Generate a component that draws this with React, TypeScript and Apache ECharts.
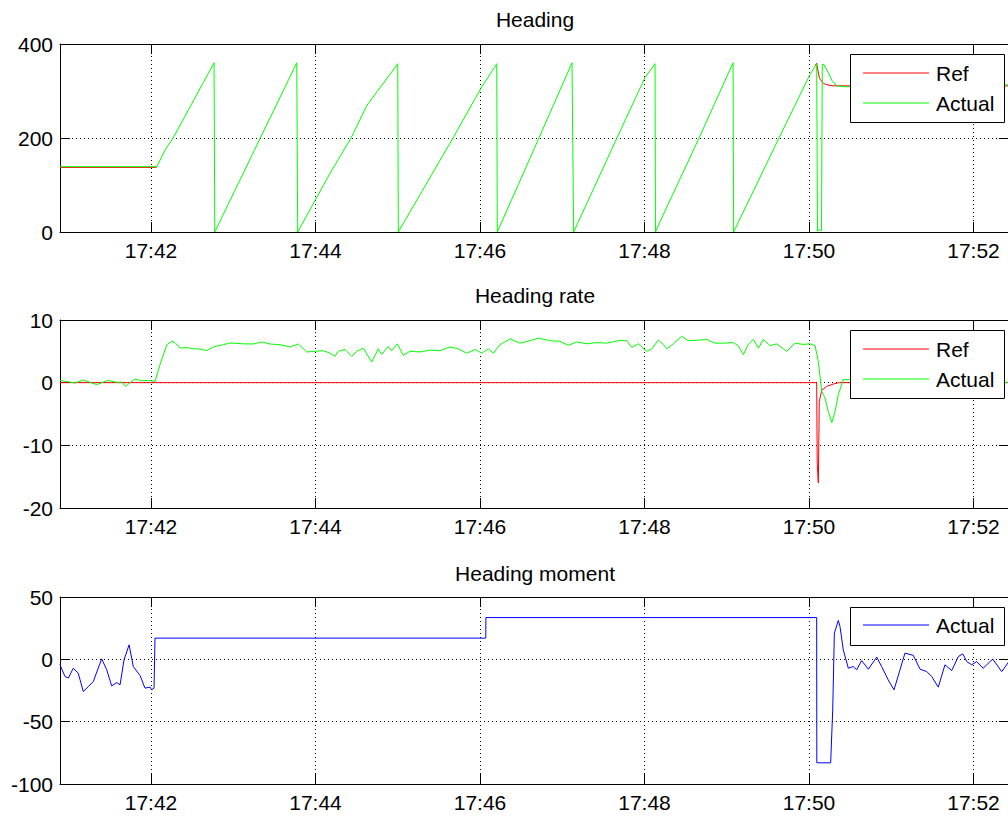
import React, { useEffect, useRef } from 'react';
import * as echarts from 'echarts';

// Time is in seconds after 17:40:00
const xTicks = [120, 240, 360, 480, 600, 720];
const xMin = 53.6;
const xMax = 745.9;

const headingTitles = ['Heading', 'Heading rate', 'Heading moment'];
const yTicks0 = [0, 400, 200];
const yTicks1 = [-20, 10, 10];
const yTicks2 = [-100, 50, 50];

const headingRef: any[] = [
  [53.6, 137.5], [124.0, 137.5], [124.5, '-'],
  [604.4, 354], [605.6, 359], [607.6, 327], [610.5, 316], [613.5, 313], [617.7, 311], [745.9, 311],
];

const headingActual: [number, number][] = [
  [53.6, 139], [124.2, 139], [130.2, 174], [136.3, 201], [166.0, 360], [166.5, 0],
  [226.3, 360], [227.0, 0],
  [250.6, 125], [265.9, 200], [277.6, 270], [300.0, 358], [300.4, 0],
  [340.3, 200], [360.7, 306], [372.2, 358], [372.6, 0],
  [403.0, 200], [427.1, 360], [428.3, 0],
  [459.9, 200], [480.4, 329], [487.7, 358], [488.0, 0],
  [491.3, 22], [519.8, 200], [544.6, 360], [545.0, 0],
  [578.1, 200], [600.7, 335], [605.6, 358], [606.2, 2], [607.3, 5], [609.1, 3],
  [609.7, 357], [610.9, 356], [613.9, 340], [616.8, 322], [620.2, 311], [626.3, 309],
  [666.4, 311], [745.9, 313],
];

const rateRef: [number, number][] = [
  [53.6, 0], [605.6, 0], [606.0, -13], [606.8, -16], [607.5, -3], [609.3, -1.2],
  [612.9, -0.6], [618.0, -0.2], [622.0, 0], [745.9, 0],
];

const rateActual: [number, number][] = [
  [53.6, 0.37], [60.9, 0.1], [64.5, -0.05], [70.6, 0.43], [75.5, 0.05], [80.4, -0.32],
  [84.0, 0], [88.8, 0.37], [95.0, 0.05], [98.6, 0.1], [101.5, -0.6], [104.7, 0],
  [108.3, 0.58], [113.2, 0.3], [118.0, 0.37], [122.9, 0.2], [126.6, 2.9], [131.5, 6.06],
  [135.1, 6.6], [137.5, 6.4], [141.2, 5.53], [146.0, 5.6], [150.9, 5.4], [155.7, 5.37],
  [160.6, 5.11], [165.4, 5.7], [172.7, 6.06], [177.6, 6.33], [187.3, 6.2], [194.6, 6.17],
  [200.8, 6.5], [206.8, 6.17], [214.1, 6.06], [221.4, 5.7], [227.5, 6.17], [233.6, 4.9],
  [238.4, 4.98], [245.7, 5.1], [250.6, 4.7], [254.2, 4.2], [256.6, 5.0], [261.5, 5.3],
  [266.4, 4.2], [270.1, 5.0], [274.9, 5.5], [281.0, 3.3], [285.8, 5.4], [288.3, 4.5],
  [293.1, 5.8], [295.6, 5.1], [299.7, 6.2], [304.0, 4.36], [308.9, 5.0], [316.2, 4.9],
  [323.5, 5.2], [330.8, 5.1], [338.1, 5.7], [344.2, 5.4], [350.3, 4.7], [356.4, 5.3],
  [361.2, 4.7], [366.1, 5.4], [369.7, 4.7], [374.6, 6.06], [381.9, 7.0], [389.2, 6.3],
  [396.5, 6.7], [402.5, 7.1], [411.1, 6.7], [418.4, 6.6], [424.4, 5.96], [430.5, 6.5],
  [437.8, 6.2], [445.1, 6.4], [452.4, 6.3], [462.1, 6.75], [467.0, 6.7], [470.7, 5.64],
  [475.5, 6.2], [481.6, 5.0], [485.3, 5.4], [490.1, 6.8], [493.7, 6.1], [496.2, 5.4],
  [501.0, 6.2], [507.1, 7.4], [512.0, 6.7], [518.1, 6.75], [525.4, 6.9], [531.4, 6.3],
  [537.5, 6.3], [544.8, 6.4], [548.4, 5.9], [552.1, 4.47], [555.7, 6.1], [559.4, 6.9],
  [563.1, 5.5], [566.7, 6.9], [571.6, 5.9], [576.4, 6.2], [583.7, 5.0], [589.8, 6.3],
  [595.8, 6.1], [600.7, 6.2], [604.4, 5.9], [606.8, 3.4], [609.3, -1.4], [611.7, -2.45],
  [614.1, -4.6], [616.6, -6.4], [619.0, -4.6], [621.4, -1.9], [625.0, 0.48], [628.7, 0.5],
  [640.0, 0.3], [680.0, 0.1], [745.9, 0.05],
];

const momentActual: [number, number][] = [
  [53.6, -4], [54.1, -5.8], [57.3, -13.8], [59.7, -15], [63.3, -7.1], [66.9, -11.1],
  [70.6, -25.9], [74.2, -21.9], [77.9, -17.8], [84.0, 0.4], [87.7, -8.4], [91.3, -21.3],
  [95.0, -18.6], [97.4, -20.5], [100.3, -0.4], [104.0, 11.6], [107.1, -5.8], [112.0, -13],
  [115.6, -23.1], [119.3, -22.3], [120.5, -24.5], [122.2, -23.1], [122.9, 17],
  [364.2, 17], [364.3, 33.5], [605.6, 33.5], [605.7, -83], [615.8, -83], [617.3, -40.6],
  [618.5, 21], [621.4, 31.2], [622.6, 26.4], [625.0, 7.6], [628.7, -7.1], [632.3, -5.8],
  [634.8, -8.4], [638.4, -1], [643.3, -7.9], [649.4, 1.8], [653.0, -5.8], [657.8, -16.5],
  [662.0, -24.5], [666.4, -8.4], [670.0, 5], [676.1, 3.2], [681.0, -7.9], [685.9, -9.8],
  [689.5, -13.8], [694.3, -22.3], [699.2, -4.4], [704.1, -9], [709.0, 2.3], [712.2, 4.4],
  [715.1, -1.8], [718.7, -4.4], [722.3, -1.8], [727.1, -7.1], [734.0, 0.2], [740.6, -9.8],
  [745.9, -1.8],
];

const FONT = 'Liberation Sans';
const FS = 21;

const fmtTime = (v: number) => {
  const m = 40 + Math.round(v / 60);
  return `17:${m < 10 ? '0' + m : m}`;
};

export default function App() {
  const ref = useRef<HTMLDivElement>(null);

  useEffect(() => {
    if (!ref.current) return;
    const chart = echarts.init(ref.current, null, { renderer: 'svg' });

    const grids = [
      { left: 60, top: 44, width: 949, height: 188 },
      { left: 60, top: 320, width: 949, height: 188 },
      { left: 60, top: 597, width: 949, height: 187 },
    ];
    const yRanges = [yTicks0, yTicks1, yTicks2];

    const xAxis: any[] = [];
    const yAxis: any[] = [];
    grids.forEach((_, i) => {
      const line = { show: true, onZero: false, lineStyle: { color: '#000', width: 1 } };
      const tick = { show: true, inside: true, length: 10, customValues: xTicks, lineStyle: { color: '#000', width: 1 } };
      xAxis.push({
        type: 'value', gridIndex: i, min: xMin, max: xMax, position: 'bottom',
        axisLine: line, axisTick: tick,
        axisLabel: { show: true, customValues: xTicks, formatter: fmtTime, color: '#000', fontFamily: FONT, fontSize: FS, margin: 8 },
        splitLine: { show: true, lineStyle: { color: '#000', type: [1, 3], width: 1 } },
      });
      xAxis.push({
        type: 'value', gridIndex: i, min: xMin, max: xMax, position: 'top',
        axisLine: line, axisTick: tick, axisLabel: { show: false }, splitLine: { show: false },
      });
      const [mn, mx, iv] = yRanges[i];
      const ytick = { show: true, inside: true, length: 10, lineStyle: { color: '#000', width: 1 } };
      yAxis.push({
        type: 'value', gridIndex: i, min: mn, max: mx, interval: iv, position: 'left',
        axisLine: line, axisTick: ytick,
        axisLabel: { show: true, color: '#000', fontFamily: FONT, fontSize: FS, margin: 7 },
        splitLine: { show: true, lineStyle: { color: '#000', type: [1, 3], width: 1 } },
      });
      yAxis.push({
        type: 'value', gridIndex: i, min: mn, max: mx, interval: iv, position: 'right',
        axisLine: line, axisTick: ytick, axisLabel: { show: false }, splitLine: { show: false },
      });
    });

    const mk = (name: string, data: any[], color: string, ai: number) => ({
      name, type: 'line', data, xAxisIndex: ai, yAxisIndex: ai,
      showSymbol: false, symbol: 'none', connectNulls: false,
      lineStyle: { color, width: 1 }, itemStyle: { color }, emphasis: { disabled: true },
    });

    const titleText = (text: string, y: number) => ({
      type: 'text', x: 535, y, z: 100,
      style: { text, fill: '#000', fontSize: FS, fontFamily: FONT, align: 'center', verticalAlign: 'middle' },
    });

    const legendBox = (x: number, y: number, w: number, h: number, items: { name: string; color: string; y: number }[]) => {
      const els: any[] = [
        { type: 'rect', z: 100, shape: { x: x + 0.5, y: y + 0.5, width: w, height: h }, style: { fill: '#fff', stroke: '#000', lineWidth: 1 } },
      ];
      items.forEach((it) => {
        els.push({ type: 'line', z: 101, shape: { x1: 863, y1: it.y, x2: 929, y2: it.y }, style: { stroke: it.color, lineWidth: 1 } });
        els.push({
          type: 'text', z: 101, x: 936, y: it.y + 0.5,
          style: { text: it.name, fill: '#000', fontSize: FS, fontFamily: FONT, align: 'left', verticalAlign: 'middle' },
        });
      });
      return els;
    };

    const graphic: any[] = [
      titleText(headingTitles[0], 19),
      titleText(headingTitles[1], 295),
      titleText(headingTitles[2], 573),
      ...legendBox(850, 54, 154, 68, [
        { name: 'Ref', color: '#ff0000', y: 73 },
        { name: 'Actual', color: '#00ff00', y: 103 },
      ]),
      ...legendBox(850, 330, 154, 68, [
        { name: 'Ref', color: '#ff0000', y: 349 },
        { name: 'Actual', color: '#00ff00', y: 379 },
      ]),
      ...legendBox(850, 607, 154, 38, [
        { name: 'Actual', color: '#0000ff', y: 625 },
      ]),
    ];

    chart.setOption({
      animation: false,
      backgroundColor: '#fff',
      textStyle: { fontFamily: FONT },
      grid: grids.map((g) => ({ ...g, containLabel: false, outerBoundsMode: 'none' })),
      xAxis,
      yAxis,
      series: [
        mk('Ref', headingRef, '#ff0000', 0),
        mk('Actual', headingActual, '#00ff00', 0),
        mk('Ref', rateRef, '#ff0000', 2),
        mk('Actual', rateActual, '#00ff00', 2),
        mk('Actual', momentActual, '#0000ff', 4),
      ],
      graphic,
    });

    return () => chart.dispose();
  }, []);

  return (
    <div
      ref={ref}
      style={{ position: 'fixed', left: 0, top: 0, width: 1008, height: 819, background: '#fff' }}
    />
  );
}
